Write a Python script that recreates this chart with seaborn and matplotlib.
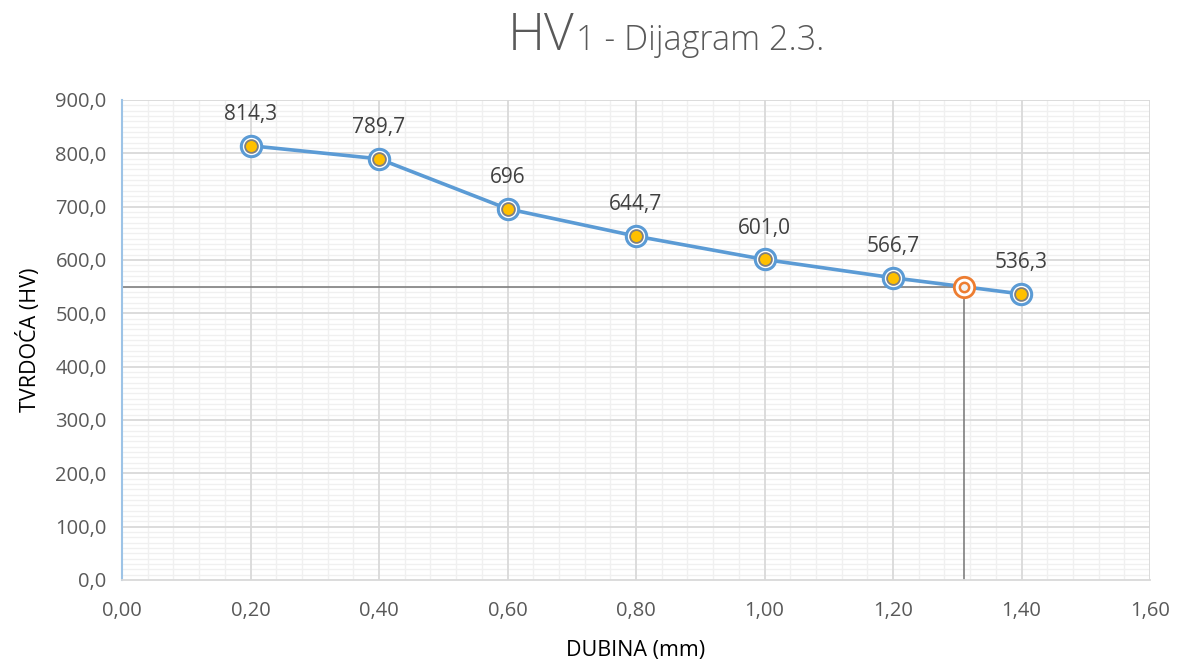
import matplotlib
matplotlib.use("Agg")
import matplotlib.pyplot as plt
from matplotlib.ticker import MultipleLocator, FuncFormatter
import seaborn as sns
import pandas as pd

# Hardness measurements along depth
dubina = [0.20, 0.40, 0.60, 0.80, 1.00, 1.20, 1.40]
tvrdoca = [814.3, 789.7, 696.0, 644.7, 601.0, 566.7, 536.3]
decimale = [1, 1, 0, 1, 1, 1, 1]

# Limit hardness point and its depth
granica_x = [1.31]
granica_y = [550.0]

sns.set_theme(style="white")
plt.rcParams["font.family"] = ["Open Sans", "DejaVu Sans"]

W, H = 1177, 668
fig = plt.figure(figsize=(W / 100, H / 100), dpi=100)
ax = fig.add_axes([122 / W, (H - 580) / H, (1150 - 122) / W, (580 - 100) / H])

df = pd.DataFrame({"dubina": dubina, "tvrdoca": tvrdoca})

BLUE = "#5B9BD5"
ORANGE = "#ED7D31"
GOLD = "#FFC000"
MAJOR = "#D9D9D9"

ax.set_xlim(0, 1.6)
ax.set_ylim(0, 900)
ax.xaxis.set_major_locator(MultipleLocator(0.2))
ax.xaxis.set_minor_locator(MultipleLocator(0.04))
ax.yaxis.set_major_locator(MultipleLocator(100))
ax.yaxis.set_minor_locator(MultipleLocator(10))
ax.xaxis.set_major_formatter(FuncFormatter(lambda v, p: f"{v:.2f}".replace(".", ",")))
ax.yaxis.set_major_formatter(FuncFormatter(lambda v, p: f"{v:.1f}".replace(".", ",")))

# light minor grid underneath, stronger major grid on top of it
ax.grid(which="minor", color="#F0F0F0", linewidth=1.0)
ax.grid(which="major", visible=False)
ax.set_axisbelow(True)
for v in ax.get_xticks():
    if 0 < v <= 1.6001:
        ax.axvline(v, color=MAJOR, lw=1.3, zorder=1)
for v in ax.get_yticks():
    if 0 < v <= 900.1:
        ax.axhline(v, color=MAJOR, lw=1.3, zorder=1)

# guide lines to the limit point
ax.plot([0, granica_x[0]], [granica_y[0], granica_y[0]], color="#7F7F7F", lw=1.2, zorder=2)
ax.plot([granica_x[0], granica_x[0]], [0, granica_y[0]], color="#7F7F7F", lw=1.2, zorder=2)

sns.lineplot(data=df, x="dubina", y="tvrdoca", color=BLUE, linewidth=2.6, ax=ax, zorder=3)

# ringed markers
ax.scatter(df["dubina"], df["tvrdoca"], s=215, facecolor="white", edgecolor=BLUE,
           linewidth=2.2, zorder=4)
ax.scatter(df["dubina"], df["tvrdoca"], s=85, facecolor=GOLD, edgecolor="#7F7F7F",
           linewidth=1.3, zorder=5)

ax.scatter(granica_x, granica_y, s=215, facecolor="white", edgecolor=ORANGE,
           linewidth=2.0, zorder=4)
ax.scatter(granica_x, granica_y, s=45, facecolor="#F2F2F2", edgecolor=ORANGE,
           linewidth=1.8, zorder=5)

for x, y, d in zip(dubina, tvrdoca, decimale):
    txt = f"{y:.{d}f}".replace(".", ",")
    ax.annotate(txt, (x, y), xytext=(0, 15), textcoords="offset points",
                ha="center", va="bottom", fontsize=15, color="#404040", zorder=6)

for s in ("top", "right"):
    ax.spines[s].set_visible(False)
ax.spines["left"].set_color("#9DC3E6")
ax.spines["left"].set_linewidth(1.5)
ax.spines["bottom"].set_color(MAJOR)
ax.spines["bottom"].set_linewidth(1.3)

ax.tick_params(axis="y", which="major", direction="in", length=7, width=1.5,
               color=BLUE, labelsize=14.5, labelcolor="#595959", pad=11)
ax.tick_params(axis="y", which="minor", length=0)
ax.tick_params(axis="x", which="both", length=0, labelsize=14.5,
               labelcolor="#595959", pad=15)

ax.set_xlabel("DUBINA (mm)", fontsize=15.5, color="black", labelpad=14)
ax.set_ylabel("TVRDOĆA (HV)", fontsize=15.5, color="black", labelpad=10)

# title: large "HV" followed by smaller text on the same baseline
t1 = fig.text(508 / W, (H - 50) / H, "HV", fontsize=37, color="#595959",
              fontweight="light", ha="left", va="baseline")
fig.canvas.draw()
bb = t1.get_window_extent()
fig.text((bb.x1 + 1) / W, (H - 50) / H, "1 - Dijagram 2.3.", fontsize=24.5,
         color="#595959", fontweight="light", ha="left", va="baseline")

fig.savefig("out.png", dpi=100, facecolor="white")
